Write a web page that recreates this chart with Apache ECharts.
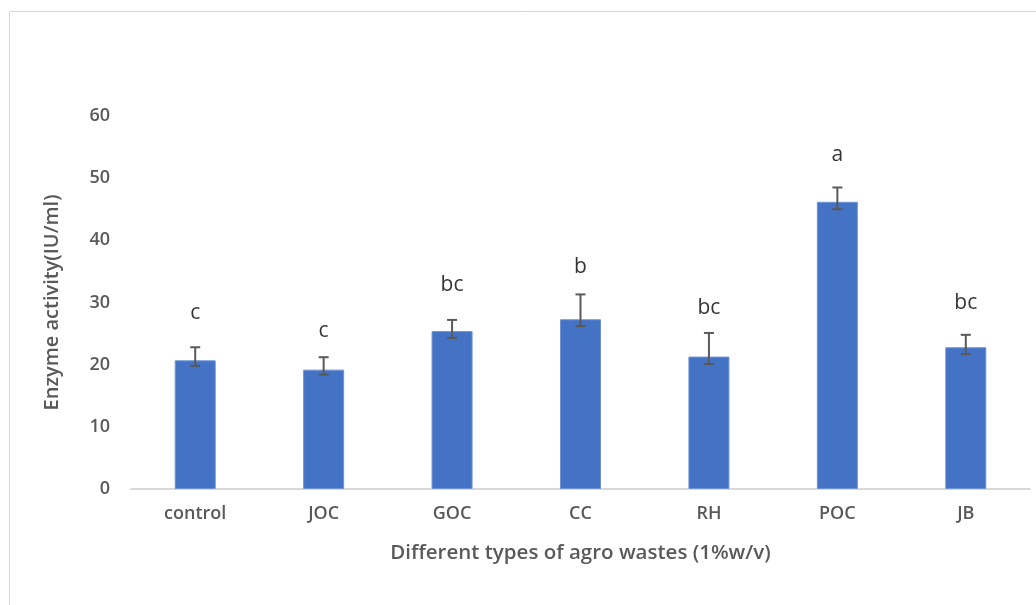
<!DOCTYPE html>
<html>
<head>
<meta charset="utf-8">
<script src="https://cdn.jsdelivr.net/npm/echarts@6/dist/echarts.min.js"></script>
<style>
  html, body { margin: 0; padding: 0; background: #fff; }
  #chart { width: 1036px; height: 605px; }
</style>
</head>
<body>
<div id="chart"></div>
<script>
// Agro-waste substrates tested
const categories = ['control', 'JOC', 'GOC', 'CC', 'RH', 'POC', 'JB'];
// Mean enzyme activity (IU/ml)
const activity = [20.7, 19.2, 25.4, 27.3, 21.3, 46.2, 22.8];
// Error bar ends (IU/ml)
const errorLow = [19.8, 18.4, 24.3, 26.2, 20.1, 45.0, 21.7];
const errorHigh = [22.8, 21.2, 27.2, 31.3, 25.1, 48.5, 24.8];
// Significance letters and the height at which they sit
const groupLetters = ['c', 'c', 'bc', 'b', 'bc', 'a', 'bc'];
const letterHeight = [28.3, 25.4, 32.8, 35.7, 29.1, 53.8, 29.9];
// Value axis ticks
const yTicks = [0, 10, 20, 30, 40, 50, 60];

const chart = echarts.init(document.getElementById('chart'), null, { renderer: 'canvas' });

const textGray = '#595959';
const labelFont = '"Open Sans", "DejaVu Sans", sans-serif';

chart.setOption({
  animation: false,
  backgroundColor: '#ffffff',
  graphic: [{
    type: 'rect',
    shape: { x: 9.5, y: 11.5, width: 1100, height: 700 },
    style: { fill: 'none', stroke: '#d9d9d9', lineWidth: 1 },
    silent: true
  }],
  grid: { left: 131, right: 6, top: 116, bottom: 116 },
  xAxis: {
    type: 'category',
    data: categories,
    name: 'Different types of agro wastes (1%w/v)',
    nameLocation: 'middle',
    nameGap: 54,
    nameTextStyle: { color: textGray, fontSize: 20.5, fontWeight: 600, fontFamily: labelFont },
    axisLine: { show: true, lineStyle: { color: '#d9d9d9', width: 2 } },
    axisTick: { show: false },
    axisLabel: { color: textGray, fontSize: 18, fontWeight: 600, fontFamily: labelFont, margin: 16 }
  },
  yAxis: {
    type: 'value',
    min: yTicks[0],
    max: yTicks[yTicks.length - 1],
    interval: 10,
    name: 'Enzyme activity(IU/ml)',
    nameLocation: 'middle',
    nameGap: 69,
    nameTextStyle: { color: textGray, fontSize: 20, fontWeight: 600, fontFamily: labelFont },
    axisLine: { show: false },
    axisTick: { show: false },
    splitLine: { show: false },
    axisLabel: { color: textGray, fontSize: 18, fontWeight: 600, fontFamily: labelFont, margin: 21 }
  },
  series: [
    {
      type: 'bar',
      data: activity,
      barWidth: 41,
      itemStyle: { color: '#4472C4', borderColor: '#6d93d6', borderWidth: 1 },
      z: 2
    },
    {
      type: 'custom',
      z: 3,
      data: categories.map((c, i) => [i, errorLow[i], errorHigh[i]]),
      encode: { x: 0, y: [1, 2] },
      renderItem: function (params, api) {
        const lo = api.coord([api.value(0), api.value(1)]);
        const hi = api.coord([api.value(0), api.value(2)]);
        const half = 5;
        const style = { stroke: '#595959', lineWidth: 2 };
        return {
          type: 'group',
          children: [
            { type: 'line', shape: { x1: lo[0], y1: lo[1], x2: hi[0], y2: hi[1] }, style: style },
            { type: 'line', shape: { x1: lo[0] - half, y1: lo[1], x2: lo[0] + half, y2: lo[1] }, style: style },
            { type: 'line', shape: { x1: hi[0] - half, y1: hi[1], x2: hi[0] + half, y2: hi[1] }, style: style }
          ]
        };
      }
    },
    {
      type: 'scatter',
      symbolSize: 0,
      data: categories.map((c, i) => [i, letterHeight[i]]),
      label: {
        show: true,
        position: 'inside',
        formatter: p => groupLetters[p.dataIndex],
        color: '#000000',
        fontSize: 21,
        fontFamily: '"Open Sans", "Noto Sans", sans-serif'
      },
      z: 4
    }
  ]
});
</script>
</body>
</html>
